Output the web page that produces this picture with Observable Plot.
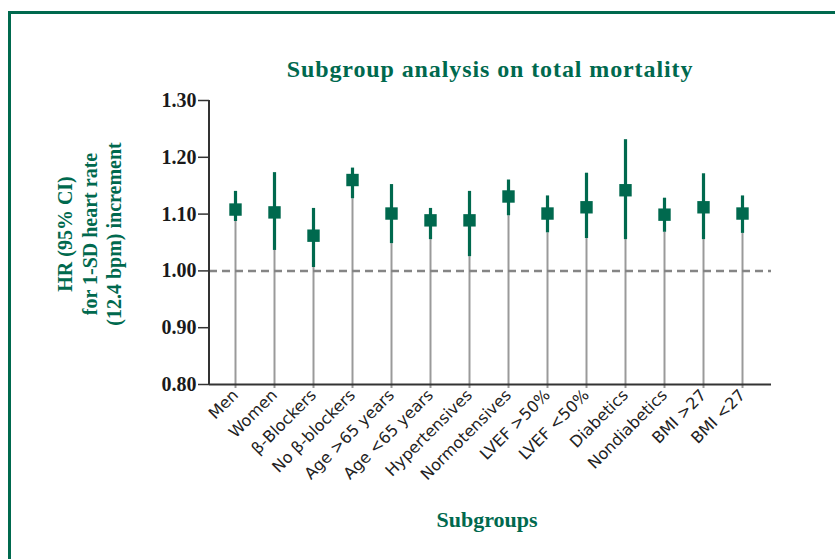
<!DOCTYPE html>
<html>
<head>
<meta charset="utf-8">
<script src="https://cdn.jsdelivr.net/npm/d3@7"></script>
<script src="https://cdn.jsdelivr.net/npm/@observablehq/plot@0.6"></script>
<style>
  html, body { margin: 0; padding: 0; background: #fff; }
  #wrap { position: relative; width: 835px; height: 559px; overflow: hidden; background: #fff; }
  #border { position: absolute; left: 8px; top: 11px; width: 900px; height: 700px;
            border-left: 3px solid #00694e; border-top: 3px solid #00694e; }
  #title { position: absolute; left: 0; width: 980px; top: 56px; text-align: center;
           font: bold 24px "Liberation Serif", serif; color: #00694e; letter-spacing: 0.9px; }
  #xlabel { position: absolute; left: 0; width: 974px; top: 507px; text-align: center;
            font: bold 22px "Liberation Serif", serif; color: #00694e; }
  #ylabel { position: absolute; left: 90px; top: 234px; width: 300px; margin-left: -150px;
            transform: translateY(-50%) rotate(-90deg); text-align: center;
            font: bold 20px "Liberation Serif", serif; color: #00694e; line-height: 24.5px; }
  #chart { position: absolute; left: 0; top: 0; }
  g[aria-label="ci"], g[aria-label="est"] { filter: drop-shadow(3px 2px 2px rgba(0,0,0,0.35)); }
</style>
</head>
<body>
<div id="wrap">
  <div id="border"></div>
  <div id="title">Subgroup analysis on total mortality</div>
  <div id="ylabel">HR (95% CI)<br>for 1-SD heart rate<br>(12.4 bpm) increment</div>
  <div id="xlabel">Subgroups</div>
  <div id="chart"></div>
</div>
<script>
const categories = ["Men", "Women", "β-Blockers", "No β-blockers", "Age >65 years", "Age <65 years",
  "Hypertensives", "Normotensives", "LVEF >50%", "LVEF <50%", "Diabetics", "Nondiabetics", "BMI >27", "BMI <27"];
const hr = [1.108, 1.103, 1.062, 1.160, 1.101, 1.089, 1.089, 1.131, 1.101, 1.112, 1.142, 1.099, 1.112, 1.101];
const lo = [1.087, 1.036, 1.006, 1.127, 1.048, 1.055, 1.025, 1.097, 1.067, 1.057, 1.055, 1.068, 1.055, 1.066];
const hi = [1.140, 1.173, 1.110, 1.181, 1.152, 1.110, 1.140, 1.160, 1.132, 1.172, 1.231, 1.128, 1.171, 1.132];
const yTicks = [0.80, 0.90, 1.00, 1.10, 1.20, 1.30];
const yMin = 0.80, yMax = 1.30, refLine = 1.00;

const data = categories.map((g, i) => ({group: g, hr: hr[i], lo: lo[i], hi: hi[i]}));

const green = "#00694e";

// left axis line drawn from the plot dimensions
function leftAxisLine(index, scales, values, dims) {
  const x = dims.marginLeft;
  return d3.create("svg:line")
    .attr("x1", x).attr("x2", x)
    .attr("y1", dims.marginTop).attr("y2", dims.height - dims.marginBottom + 1)
    .attr("stroke", "#333").attr("stroke-width", 2)
    .node();
}

const plot = Plot.plot({
  width: 835,
  height: 559,
  marginLeft: 209,
  marginRight: 64,
  marginTop: 100,
  marginBottom: 175,
  style: {background: "transparent", overflow: "visible"},
  x: {type: "point", domain: categories, padding: 0, insetLeft: 21.5, insetRight: 25},
  y: {domain: [yMin, yMax]},
  marks: [
    Plot.ruleX(data, {x: "group", y1: () => yMin, y2: "lo", stroke: "#9a9a9a", strokeWidth: 2, insetTop: 4}),
    Plot.ruleY([refLine], {stroke: "#858585", strokeWidth: 2.5, strokeDasharray: "8,5"}),
    Plot.ruleX(data, {x: "group", y1: "lo", y2: "hi", stroke: green, strokeWidth: 3.2, ariaLabel: "ci"}),
    Plot.dot(data, {x: "group", y: "hr", symbol: "square", r: 7, fill: green, stroke: null, ariaLabel: "est"}),
    Plot.ruleY([yMin], {stroke: "#333", strokeWidth: 2}),
    leftAxisLine,
    Plot.axisY({ticks: yTicks, tickFormat: d3.format(".2f"), tickSize: 11, tickPadding: 2,
      fontSize: 20, fontFamily: "Liberation Serif", fontWeight: "bold", fill: "#1a1a1a",
      stroke: "#333", strokeWidth: 1.5, label: null}),
    Plot.axisX({tickRotate: -45, tickSize: 0, tickPadding: 8, fontSize: 16,
      fontFamily: "DejaVu Sans", fill: "#222", label: null})
  ]
});
document.getElementById("chart").appendChild(plot);
</script>
</body>
</html>
